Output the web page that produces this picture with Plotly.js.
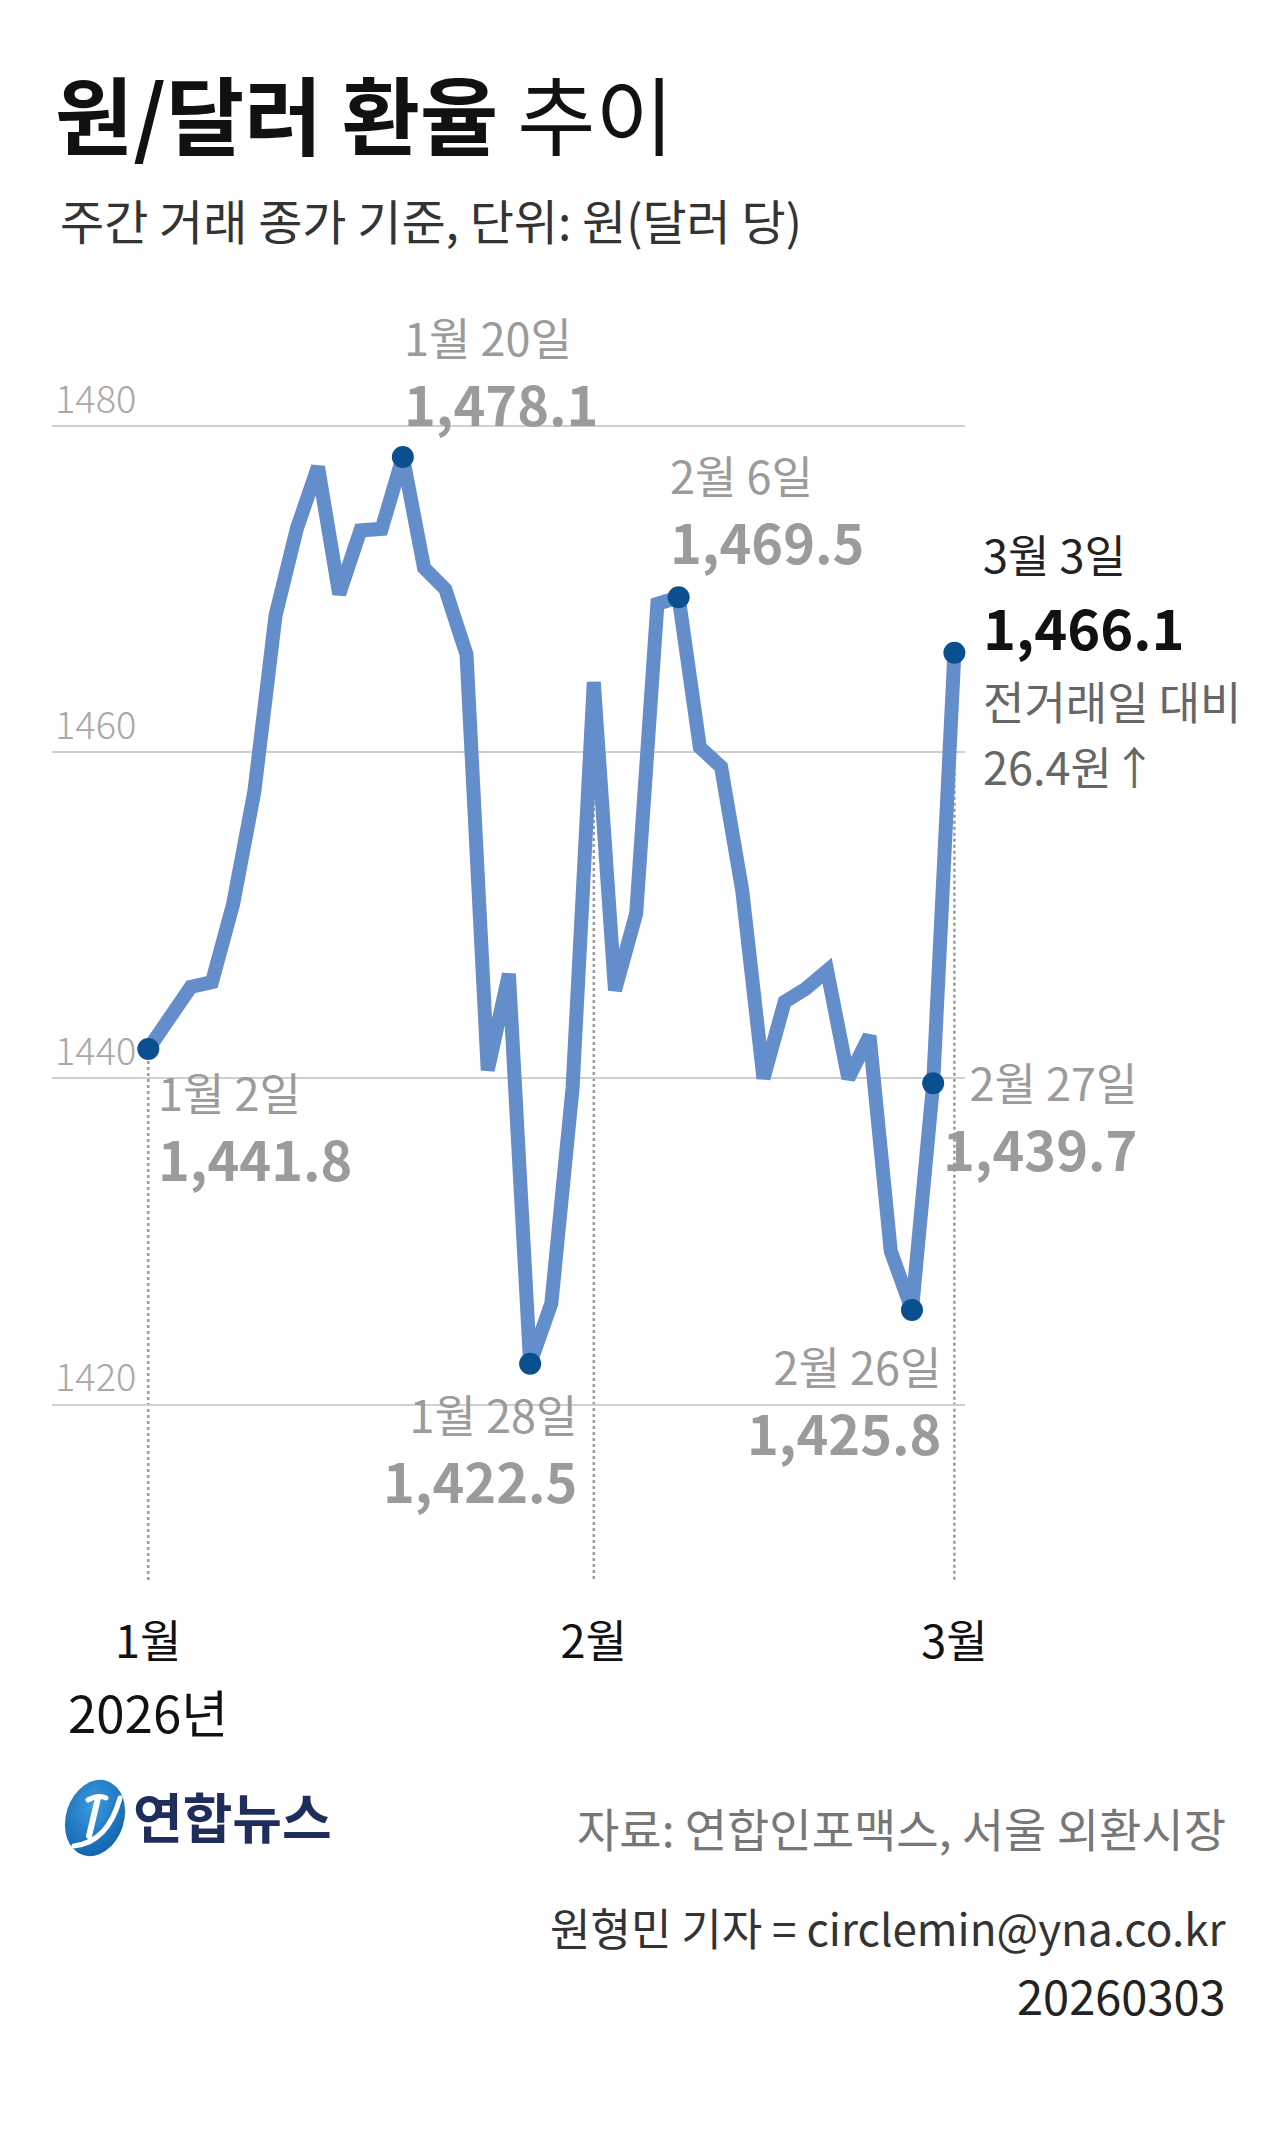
<!DOCTYPE html>
<html>
<head>
<meta charset="utf-8">
<script src="https://cdn.plot.ly/plotly-3.0.1.min.js"></script>
<style>
  html, body { margin: 0; padding: 0; background: #fff; }
  #chart { width: 1280px; height: 2131px; }
</style>
</head>
<body>
<div id="chart"></div>
<script>
// ---------------- DATA ----------------
const tradeDates = [
  '2026-01-02','2026-01-05','2026-01-06','2026-01-07','2026-01-08','2026-01-09',
  '2026-01-12','2026-01-13','2026-01-14','2026-01-15','2026-01-16',
  '2026-01-19','2026-01-20','2026-01-21','2026-01-22','2026-01-23',
  '2026-01-26','2026-01-27','2026-01-28','2026-01-29','2026-01-30',
  '2026-02-02','2026-02-03','2026-02-04','2026-02-05','2026-02-06',
  '2026-02-09','2026-02-10','2026-02-11','2026-02-12','2026-02-13',
  '2026-02-19','2026-02-20',
  '2026-02-23','2026-02-24','2026-02-25','2026-02-26','2026-02-27',
  '2026-03-03'
];
const closeRates = [
  1441.8, 1443.8, 1445.6, 1445.9, 1450.7, 1457.6,
  1468.4, 1473.7, 1477.5, 1469.7, 1473.6,
  1473.7, 1478.1, 1471.3, 1470.0, 1466.0,
  1440.5, 1446.4, 1422.5, 1426.2, 1439.4,
  1464.3, 1445.4, 1450.1, 1469.1, 1469.5,
  1460.3, 1459.1, 1451.5, 1440.0, 1444.7,
  1445.5, 1446.6,
  1440.0, 1442.6, 1429.4, 1425.8, 1439.7,
  1466.1
];
const monthTickIdx = [0, 21, 38];
const monthTickText = ['1월', '2월', '3월'];
const yearText = '2026년';
const yTickVals = [1420, 1440, 1460, 1480];
const yTickText = ['1420', '1440', '1460', '1480'];
const markIdx = [0, 12, 18, 25, 36, 37, 38];
const markDateText = ['1월 2일', '1월 20일', '1월 28일', '2월 6일', '2월 26일', '2월 27일', '3월 3일'];
const titleBold = '원/달러 환율';
const titleLight = '추이';
const subtitleText = '주간 거래 종가 기준, 단위: 원(달러 당)';
const changeLabel = '전거래일 대비';
const sourceText = '자료: 연합인포맥스, 서울 외환시장';
const bylineText = '원형민 기자 = circlemin@yna.co.kr';
const dateStamp = '20260303';
const logoText = '연합뉴스';

// ---------------- GEOMETRY ----------------
const W = 1280, H = 2131;
const M = { l: 52, r: 315, t: 300, b: 551 };
const PW = W - M.l - M.r, PH = H - M.t - M.b;
const XR = [-4.54, 38.5];
const YR = [1409.24, 1487.73];
const FONT = 'Noto Sans CJK KR, Noto Sans, sans-serif';
const px2x = p => (p - M.l) / PW;
const py2y = p => (M.t + PH - p) / PH;
const idxPx = i => M.l + (i - XR[0]) * PW / (XR[1] - XR[0]);

const xs = closeRates.map((v, i) => i);
const fmt = v => v.toLocaleString('en-US', { minimumFractionDigits: 1, maximumFractionDigits: 1 });

const lineTrace = {
  x: xs, y: closeRates, type: 'scatter', mode: 'lines',
  line: { color: '#648ecb', width: 14, shape: 'linear' },
  hoverinfo: 'skip', cliponaxis: false
};
const markTrace = {
  x: markIdx.map(i => xs[i]), y: markIdx.map(i => closeRates[i]),
  type: 'scatter', mode: 'markers',
  marker: { color: '#0b4f8e', size: 22 },
  hoverinfo: 'skip', cliponaxis: false
};

// dotted month guide lines from the point down to the axis
const shapes = monthTickIdx.map(i => ({
  type: 'line', xref: 'x', yref: 'y', layer: 'below',
  x0: xs[i], x1: xs[i], y0: closeRates[i], y1: YR[0],
  line: { color: '#9a9a9a', width: 2.5, dash: 'dot' }
}));
// white masks that break the gridlines behind some labels: [x0px, x1px, yValue]
const gridMasks = [[155, 306, 1440], [398, 596, 1480], [398, 582, 1420], [750, 946, 1420]];
gridMasks.forEach(m => shapes.push({
  type: 'rect', xref: 'paper', yref: 'y', layer: 'between',
  x0: px2x(m[0]), x1: px2x(m[1]), y0: m[2] - 0.35, y1: m[2] + 0.35,
  fillcolor: '#ffffff', line: { width: 0 }
}));

const GRAY = '#9b9b9b';
// label placement (pixels): [anchor, edgePx, dateCenterPx, valueCenterPx]
const place = [
  ['left', 157, 1092, 1164],
  ['left', 403, 337, 408],
  ['right', 578, 1413, 1487],
  ['left', 669, 474, 547],
  ['right', 942, 1366, 1437],
  ['right', 1138, 1082, 1153]
];
const DATE_FS = 45, VAL_FS = 54;
const annotations = [];
place.forEach((p, k) => {
  const i = markIdx[k];
  const [anc, edge, dc, vc] = p;
  annotations.push({
    xref: 'x', yref: 'paper', x: xs[i], xshift: edge - idxPx(i), xanchor: anc, align: anc,
    y: py2y((dc + vc) / 2), yanchor: 'middle',
    text: '<span style="font-size:' + DATE_FS + 'px">' + markDateText[k] + '</span><br><b>' + fmt(closeRates[i]) + '</b>',
    showarrow: false, borderpad: 0,
    font: { family: FONT, size: VAL_FS, color: GRAY }
  });
});
// latest value block
const lastI = closeRates.length - 1;
const diff = (closeRates[lastI] - closeRates[lastI - 1]).toFixed(1);
const lastShift = 982 - idxPx(lastI);
const lastBlock = [
  [markDateText[markDateText.length - 1], 45, '#222222', false, 556],
  [fmt(closeRates[lastI]), 56, '#111111', true, 629],
  [changeLabel, 45, '#666666', false, 703],
  [diff + '원↑', 45, '#666666', false, 768]
];
lastBlock.forEach(b => annotations.push({
  xref: 'x', yref: 'paper', x: xs[lastI], xshift: lastShift, xanchor: 'left',
  y: py2y(b[4] - 0.06 * b[1]), yanchor: 'middle',
  text: b[3] ? '<b>' + b[0] + '</b>' : b[0], showarrow: false, borderpad: 0,
  font: { family: FONT, size: b[1], color: b[2] }
}));
// year under the first month tick
annotations.push({
  xref: 'x', yref: 'paper', x: xs[monthTickIdx[0]], xanchor: 'center',
  y: py2y(1714 - 0.06 * 51), yanchor: 'middle', text: yearText, showarrow: false,
  font: { family: FONT, size: 51, color: '#111111' }
});
// subtitle
annotations.push({
  xref: 'paper', yref: 'paper', x: px2x(58), xanchor: 'left',
  y: py2y(222 - 0.06 * 48), yanchor: 'middle', text: subtitleText, showarrow: false,
  font: { family: FONT, size: 48, color: '#333333' }
});
// footer
annotations.push({
  xref: 'paper', yref: 'paper', x: px2x(1228), xanchor: 'right',
  y: py2y(1830 - 0.06 * 46), yanchor: 'middle', text: sourceText, showarrow: false,
  font: { family: FONT, size: 46, color: '#777777' }
});
annotations.push({
  xref: 'paper', yref: 'paper', x: px2x(1228), xanchor: 'right',
  y: py2y(1930 - 0.06 * 44), yanchor: 'middle', text: bylineText, showarrow: false,
  font: { family: FONT, size: 44, color: '#333333' }
});
annotations.push({
  xref: 'paper', yref: 'paper', x: px2x(1228), xanchor: 'right',
  y: py2y(1997 - 0.06 * 47), yanchor: 'middle', text: dateStamp, showarrow: false,
  font: { family: FONT, size: 47, color: '#222222' }
});
annotations.push({
  xref: 'paper', yref: 'paper', x: px2x(131), xanchor: 'left',
  y: py2y(1819 - 0.06 * 54), yanchor: 'middle', text: '<b>' + logoText + '</b>', showarrow: false,
  font: { family: FONT, size: 54, color: '#1e2d5c' }
});

const logoSvg = "<svg xmlns='http://www.w3.org/2000/svg' width='70' height='84' viewBox='0 0 70 84'>" +
  "<defs><radialGradient id='g' cx='40%' cy='35%' r='70%'><stop offset='0' stop-color='#3d9be0'/><stop offset='1' stop-color='#0f63ad'/></radialGradient></defs>" +
  "<ellipse cx='35' cy='42' rx='29' ry='39' transform='rotate(18 35 42)' fill='url(#g)'/>" +
  "<path d='M14 70 Q 48 66 60 22' stroke='#ffffff' stroke-width='5' fill='none' stroke-linecap='round'/>" +
  "<path d='M28 24 Q 38 18 46 22' stroke='#ffffff' stroke-width='5' fill='none' stroke-linecap='round'/>" +
  "<path d='M38 22 L 29 60' stroke='#ffffff' stroke-width='6' fill='none' stroke-linecap='round'/>" +
  "</svg>";

const layout = {
  width: W, height: H,
  margin: M,
  paper_bgcolor: '#ffffff', plot_bgcolor: '#ffffff',
  showlegend: false,
  font: { family: FONT },
  title: {
    text: '<b>' + titleBold + '</b> ' + titleLight,
    xref: 'container', yref: 'container',
    x: 55 / W, xanchor: 'left',
    y: 1 - (124 - 0.06 * 85) / H, yanchor: 'middle',
    font: { family: FONT, size: 85, color: '#111111' }
  },
  xaxis: {
    range: XR, showgrid: false, zeroline: false, showline: false,
    tickmode: 'array', tickvals: monthTickIdx.map(i => xs[i]), ticktext: monthTickText,
    ticks: '', ticklabelstandoff: 32,
    tickfont: { family: FONT, size: 45, color: '#111111' },
    fixedrange: true
  },
  yaxis: {
    range: YR, showgrid: true, gridcolor: '#cfcfcf', gridwidth: 2, zeroline: false, showline: false,
    tickmode: 'array', tickvals: yTickVals, ticktext: yTickText,
    ticklabelposition: 'inside top', ticks: '',
    tickfont: { family: FONT, size: 38, color: '#a8a8a8', weight: 300 },
    fixedrange: true
  },
  shapes: shapes,
  annotations: annotations,
  images: [{
    source: 'data:image/svg+xml;charset=utf-8,' + encodeURIComponent(logoSvg),
    xref: 'paper', yref: 'paper', x: px2x(60), y: py2y(1776),
    sizex: 70 / PW, sizey: 84 / PH, xanchor: 'left', yanchor: 'top', sizing: 'stretch', layer: 'above'
  }]
};

Plotly.newPlot('chart', [lineTrace, markTrace], layout, { displayModeBar: false, staticPlot: true });
</script>
</body>
</html>
